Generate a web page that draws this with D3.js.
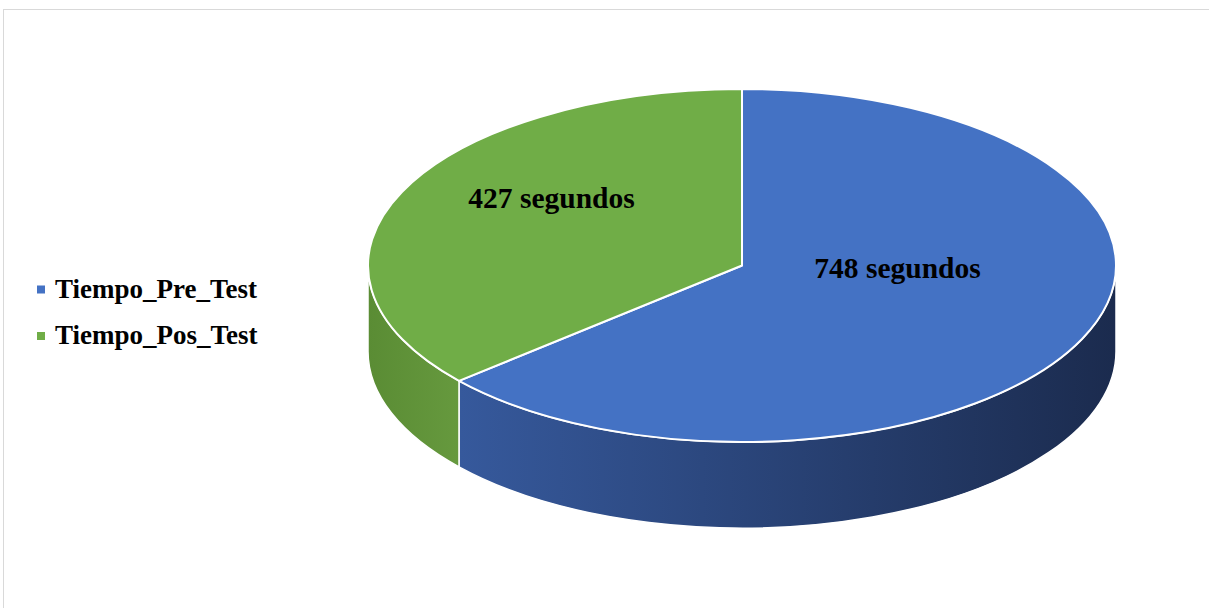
<!DOCTYPE html>
<html lang="es">
<head>
  <meta charset="UTF-8">
  <title>Tiempo Pre/Pos Test</title>
  <script src="https://d3js.org/d3.v7.min.js"></script>
  <style>
    body { margin: 0; background: #fff; }
  </style>
</head>
<body>
<div class="main"></div>
<script>
  // data
  var categories = ["Tiempo_Pre_Test", "Tiempo_Pos_Test"];
  var values = [748, 427];
  var labels = ["748 segundos", "427 segundos"];
  var topColors = ["#4472C4", "#70AD47"];
  var sideColors = [["#36599c", "#1b2b4e"], ["#5a8c34", "#66993e"]];

  var width = 1209, height = 608;
  var cx = 742, cy = 265.5, rx = 374, ry = 176.5, depth = 86;

  var svg = d3.select(".main").append("svg")
          .attr("width", width)
          .attr("height", height)
          .style("display", "block");

  // chart frame
  svg.append("rect")
          .attr("x", 3.5).attr("y", 9.5)
          .attr("width", width + 10).attr("height", height + 10)
          .attr("fill", "none").attr("stroke", "#d9d9d9").attr("stroke-width", 1);

  var pie = d3.pie().sort(null).value(function (d) { return d; });
  var arcs = pie(values);

  function pt(a, dy) {
    return [cx + rx * Math.sin(a), cy - ry * Math.cos(a) + (dy || 0)];
  }

  var defs = svg.append("defs");
  sideColors.forEach(function (c, i) {
    var g = defs.append("linearGradient").attr("id", "side" + i)
            .attr("gradientUnits", "objectBoundingBox")
            .attr("x1", 0).attr("x2", 1).attr("y1", 0).attr("y2", 0);
    g.append("stop").attr("offset", "0%").attr("stop-color", c[0]);
    g.append("stop").attr("offset", "100%").attr("stop-color", c[1]);
  });

  // side walls (only the front half, PI/2 .. 3PI/2)
  var sideG = svg.append("g");
  arcs.forEach(function (d, i) {
    var a0 = Math.max(d.startAngle, Math.PI / 2);
    var a1 = Math.min(d.endAngle, Math.PI * 3 / 2);
    if (a1 <= a0) return;
    var p0 = pt(a0), p1 = pt(a1), q1 = pt(a1, depth), q0 = pt(a0, depth);
    var path = "M" + p0 + "A" + rx + "," + ry + " 0 0 1 " + p1 +
            "L" + q1 + "A" + rx + "," + ry + " 0 0 0 " + q0 + "Z";
    sideG.append("path")
            .attr("d", path)
            .attr("fill", "url(#side" + i + ")")
            .attr("stroke", "#fff")
            .attr("stroke-width", 1.5)
            .attr("stroke-linejoin", "round");
  });

  // top faces
  var topG = svg.append("g");
  topG.selectAll("path")
          .data(arcs)
          .join("path")
          .attr("d", function (d) {
            var p0 = pt(d.startAngle), p1 = pt(d.endAngle);
            var large = (d.endAngle - d.startAngle) > Math.PI ? 1 : 0;
            return "M" + cx + "," + cy + "L" + p0 +
                    "A" + rx + "," + ry + " 0 " + large + " 1 " + p1 + "Z";
          })
          .attr("fill", function (d, i) { return topColors[i]; })
          .attr("stroke", "#fff")
          .attr("stroke-width", 2)
          .attr("stroke-linejoin", "round");

  // data labels
  var labelPos = [[897.5, 268], [551.5, 198]];
  svg.append("g").selectAll("text")
          .data(labels)
          .join("text")
          .attr("x", function (d, i) { return labelPos[i][0]; })
          .attr("y", function (d, i) { return labelPos[i][1]; })
          .attr("dy", "0.35em")
          .attr("text-anchor", "middle")
          .style("font-family", "'Liberation Serif', 'Times New Roman', serif")
          .style("font-weight", "bold")
          .style("font-size", "29.5px")
          .attr("fill", "#000")
          .text(function (d) { return d; });

  // legend
  var legend = svg.append("g").attr("transform", "translate(37, 288.5)");
  var item = legend.selectAll("g")
          .data(categories)
          .join("g")
          .attr("transform", function (d, i) { return "translate(0," + (i * 46.5) + ")"; });
  item.append("rect")
          .attr("x", 0).attr("y", -3)
          .attr("width", 8).attr("height", 8)
          .attr("fill", function (d, i) { return topColors[i]; });
  item.append("text")
          .attr("x", 18).attr("y", 0)
          .attr("dy", "0.35em")
          .style("font-family", "'Liberation Serif', 'Times New Roman', serif")
          .style("font-weight", "bold")
          .style("font-size", "27px")
          .attr("fill", "#000")
          .text(function (d) { return d; });
</script>
</body>
</html>
